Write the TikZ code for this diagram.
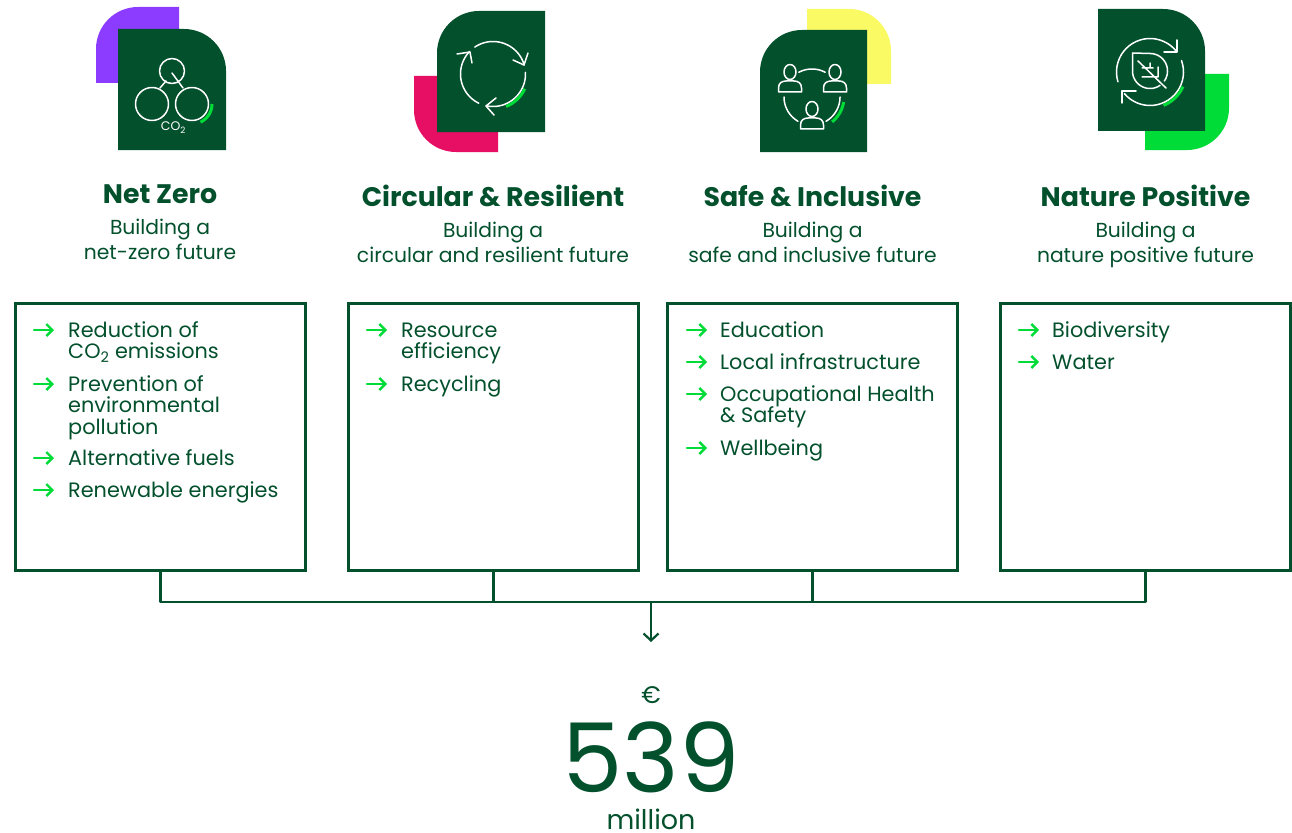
\documentclass[tikz,border=0pt]{standalone}
\usepackage{fontspec}
\setmainfont{Poppins}
\usetikzlibrary{arrows.meta}
\definecolor{forest}{HTML}{03502D}
\definecolor{neon}{HTML}{00DC37}
\definecolor{violet}{HTML}{8C3CFF}
\definecolor{berry}{HTML}{E60F64}
\definecolor{lemon}{HTML}{FAFA64}
\newcommand{\ringarc}[6][iconline]{\draw[#1] plot[smooth, samples=24, domain=#5:#6] ({#2+#4*cos(\x)}, {#3+#4*sin(\x)});}
\newcommand{\itemarrow}[2]{\draw[bullet] (#1,#2)--++(20,0);}
\newcommand{\topgap}{\rule{0pt}{18pt}}
\begin{document}
\begin{tikzpicture}[x=1pt, y=-1pt, line cap=round, line join=round, >={Straight Barb[length=6pt,width=12pt]}]
	\tikzset{iconline/.style={white, line width=1.5pt}}
	\tikzset{iconmark/.style={neon, line width=3pt, line cap=butt}}
	\tikzset{bullet/.style={neon, line width=2.4pt, ->}}
	\tikzset{box/.style={draw=forest, line width=2.4pt, line join=miter, minimum width=290pt, minimum height=267pt, inner sep=0pt}}
	\tikzset{bracket/.style={forest, line width=2.4pt, line cap=butt}}
	\tikzset{title/.style={forest, anchor=base, font=\fontsize{26.8}{28}\bfseries\selectfont}}
	\tikzset{sub/.style={forest, align=center, anchor=north, inner sep=0pt, font=\fontsize{20.3}{25.5}\selectfont}}
	\tikzset{entry/.style={forest, align=left, anchor=north west, inner sep=0pt, font=\fontsize{20.8}{21.5}\selectfont}}
	\useasboundingbox (0,0) rectangle (1292,832);
	% back tiles
	\fill[violet] (179,83)--(96,83)[rounded corners=42pt]--(96,7)[sharp corners]--(179,7)--cycle;
	\fill[berry] (498,76)--(414,76)[rounded corners=42pt]--(414,152)[sharp corners]--(498,152)--cycle;
	\fill[lemon] (807,84)--(807,9)[rounded corners=42pt]--(891,9)[sharp corners]--(891,84)--cycle;
	\fill[neon] (1229,74)--(1145,74)--(1145,150)[rounded corners=42pt]--(1229,150)[sharp corners]--cycle;
	% front tiles
	\fill[forest] (118,150)--(118,29)[rounded corners=42pt]--(226,29)[sharp corners]--(226,150)--cycle;
	\fill[forest] (545,132)--(437,132)[rounded corners=42pt]--(437,11)[sharp corners]--(545,11)--cycle;
	\fill[forest] (867,152)--(760,152)[rounded corners=42pt]--(760,30)[sharp corners]--(867,30)--cycle;
	\fill[forest] (1098,131)--(1098,9)[rounded corners=42pt]--(1205,9)[sharp corners]--(1205,131)--cycle;
	% icon one
	\draw[iconline] (172,71) circle (12.5) (152,104) circle (16.5) (192,104) circle (16.5);
	\draw[iconline] (160,88)--(166,81) (172,73)--(183,88);
	\ringarc[iconmark]{192}{104}{20}{0}{65}
	\node[white, font=\fontsize{12.5}{13}\selectfont] (cotwo) at (173.5,127.5) {CO\textsubscript{2}};
	% icon two
	\ringarc{493}{74}{32.5}{-124}{-16}
	\ringarc{493}{74}{32.5}{-3}{102}
	\ringarc{493}{74}{32.5}{116}{224}
	\draw[iconline] (513,60)--(524,65)--(528,53) (496,98)--(486,106)--(494,115) (457,54)--(470,52)--(472,63);
	\ringarc[iconmark]{493}{74}{35}{25}{68}
	% icon three
	\ringarc{812}{97}{28}{242}{298}
	\ringarc{812}{97}{28}{120}{180}
	\ringarc{812}{97}{28}{0}{60}
	\foreach \px/\py in {790/72, 835/72, 812/109}{
		\draw[iconline, shift={(\px,\py)}] (0,0) ellipse (6 and 7.5);
		\draw[iconline, shift={(\px,\py)}] (-11.5,20)--(-11.5,16) .. controls (-11.5,11) and (-8,9) .. (-4,9)--(4,9) .. controls (8,9) and (11.5,11) .. (11.5,16)--(11.5,20)--cycle;
	}
	\ringarc[iconmark]{812}{97}{32}{9}{51}
	% icon four
	\ringarc{1150}{72}{33.5}{163}{321}
	\ringarc{1150}{72}{33.5}{-20}{140}
	\draw[iconline] (1164,52)--(1177,52)--(1177,40) (1122,103)--(1122,91)--(1136,91);
	\ringarc[iconmark]{1150}{72}{36}{24}{68}
	\ringarc{1150}{71}{17.5}{-90}{35}
	\ringarc{1150}{71}{17.5}{55}{180}
	\draw[iconline] (1132.5,71)--(1132.5,53)--(1150,53.5);
	\draw[iconline] (1138,61)--(1166,88) (1142,68)--(1153,68) (1150,63)--(1150,68) (1158,67)--(1158,77)--(1142,77);
	% titles
	\node[title] (netzero) at (160,203) {Net Zero};
	\node[sub] (netsub) at (160,216) {\topgap Building a\\net-zero future};
	\node[title] (circular) at (493,206) {Circular \& Resilient};
	\node[sub] (circsub) at (493,219) {\topgap Building a\\circular and resilient future};
	\node[title] (safe) at (812.5,206) {Safe \& Inclusive};
	\node[sub] (safesub) at (812.5,219) {\topgap Building a\\safe and inclusive future};
	\node[title] (nature) at (1145.5,206) {Nature Positive};
	\node[sub] (natsub) at (1145.5,219) {\topgap Building a\\nature positive future};
	% boxes
	\node[box] (netbox) at (160.5,437) {};
	\node[box] (circbox) at (493.5,437) {};
	\node[box] (safebox) at (812.5,437) {};
	\node[box] (natbox) at (1145.5,437) {};
	% lists
	\itemarrow{34}{330}
	\node[entry] (reduce) at (68,319) {\topgap Reduction of\\CO\textsubscript{2} emissions};
	\itemarrow{34}{384}
	\node[entry] (prevent) at (68,373) {\topgap Prevention of\\environmental\\pollution};
	\itemarrow{34}{458}
	\node[entry] (fuels) at (68,447) {\topgap Alternative fuels};
	\itemarrow{34}{490}
	\node[entry] (renew) at (68,479) {\topgap Renewable energies};
	\itemarrow{367}{330}
	\node[entry] (resource) at (401,319) {\topgap Resource\\efficiency};
	\itemarrow{367}{384}
	\node[entry] (recycle) at (401,373) {\topgap Recycling};
	\itemarrow{687}{330}
	\node[entry] (educate) at (720,319) {\topgap Education};
	\itemarrow{687}{362}
	\node[entry] (local) at (720,351) {\topgap Local infrastructure};
	\itemarrow{687}{394}
	\node[entry] (health) at (720,383) {\topgap Occupational Health\\\& Safety};
	\itemarrow{687}{448}
	\node[entry] (well) at (720,437) {\topgap Wellbeing};
	\itemarrow{1019}{330}
	\node[entry] (biodiv) at (1052,319) {\topgap Biodiversity};
	\itemarrow{1019}{362}
	\node[entry] (water) at (1052,351) {\topgap Water};
	% total
	\node[forest, inner sep=0pt, font=\fontsize{24}{26}\selectfont] (euro) at (651,695) {€};
	\node[forest, inner sep=0pt, font=\fontsize{96}{98}\selectfont] (amount) at (651,757) {539};
	\node[forest, inner sep=0pt, anchor=base, font=\fontsize{27}{30}\selectfont] (unit) at (651,829) {million};
	% bracket
	\coordinate (bus) at (651,602);
	\coordinate (drop) at (651,642);
	\draw[bracket] (netbox.south)|-(natbox.south|-bus)--(natbox.south);
	\draw[bracket] (circbox.south)--(circbox.south|-bus);
	\draw[bracket] (safebox.south)--(safebox.south|-bus);
	\draw[forest, line width=2.2pt, -{Straight Barb[length=7pt,width=15pt]}] (bus)--(drop);
\end{tikzpicture}
\end{document}
